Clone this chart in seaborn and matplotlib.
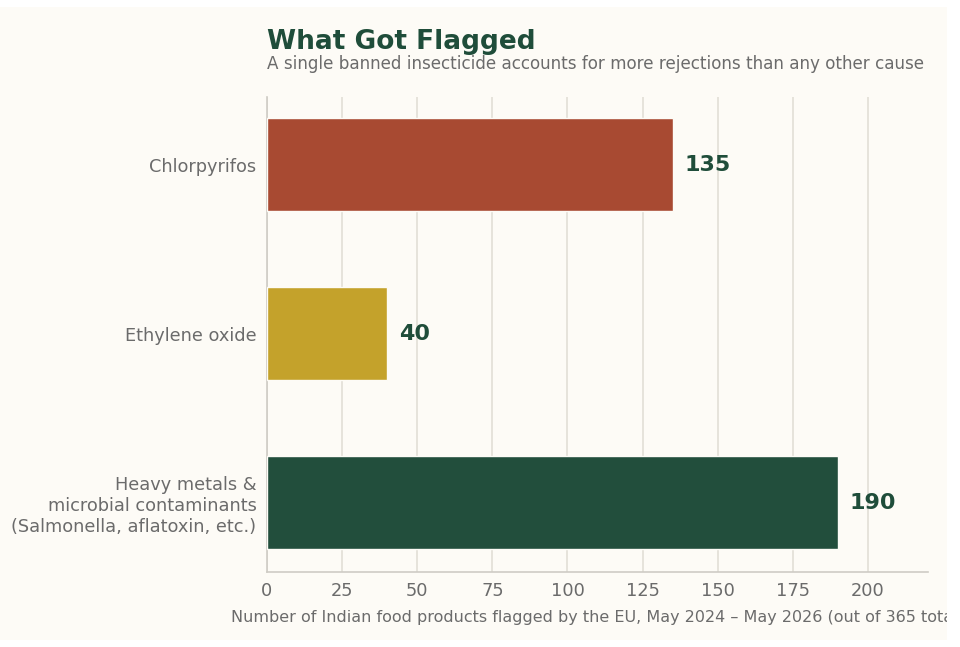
import matplotlib
matplotlib.use('Agg')
import matplotlib.pyplot as plt
import seaborn as sns
import pandas as pd
from matplotlib.patches import Rectangle

categories = ['Chlorpyrifos', 'Ethylene oxide',
              'Heavy metals &\nmicrobial contaminants\n(Salmonella, aflatoxin, etc.)']
counts = [135, 40, 190]
bar_colors = ['#A84A32', '#C4A22B', '#224E3C']
x_ticks = [0, 25, 50, 75, 100, 125, 150, 175, 200]

df = pd.DataFrame({'cause': categories, 'count': counts})

sns.set_theme(style='white')
plt.rcParams['font.family'] = ['DejaVu Sans']

bg = '#FDFBF6'
fig = plt.figure(figsize=(9.6, 6.47), dpi=100, facecolor='white')
panel = Rectangle((0, 7 / 647), 947 / 960, 633 / 647, transform=fig.transFigure,
                  facecolor=bg, edgecolor='none', zorder=-10)
fig.patches.append(panel)

ax = fig.add_axes([267 / 960, 1 - 572 / 647, (928 - 267) / 960, (572 - 97) / 647])
ax.set_facecolor(bg)

sns.barplot(data=df, x='count', y='cause', hue='cause', palette=bar_colors,
            saturation=1, legend=False, width=0.55, edgecolor='#FDFBF6',
            linewidth=1, ax=ax, zorder=3)

for i, val in enumerate(counts):
    ax.text(val + 4, i, f'{val}', va='center', ha='left', fontsize=16,
            fontweight='bold', color='#1F4D3A')

ax.set_xlim(0, 220)
ax.set_ylim(2.41, -0.40)
ax.set_xticks(x_ticks)
ax.grid(axis='x', color='#E2DFD6', linewidth=1.2, zorder=0)
ax.grid(axis='y', visible=False)

for s in ['top', 'right']:
    ax.spines[s].set_visible(False)
for s in ['left', 'bottom']:
    ax.spines[s].set_color('#CFCCC5')
    ax.spines[s].set_linewidth(1.2)

ax.tick_params(axis='both', labelsize=12.8, length=4, width=1,
               colors='#9A9A9A', labelcolor='#6B6B6B')
ax.set_ylabel('')
ax.set_xlabel('Number of Indian food products flagged by the EU, May 2024 \u2013 May 2026 (out of 365 total)',
              fontsize=11.5, color='#6B6B6B', labelpad=7)
ax.xaxis.label.set_clip_path(panel)

ax.text(0, 1.101, 'What Got Flagged', transform=ax.transAxes, fontsize=19,
        fontweight='bold', color='#1F4D3A', ha='left', va='baseline')
ax.text(0, 1.059, 'A single banned insecticide accounts for more rejections than any other cause',
        transform=ax.transAxes, fontsize=12.1, color='#6B6B6B', ha='left', va='baseline')

fig.savefig('out.png', dpi=100, facecolor='white')
